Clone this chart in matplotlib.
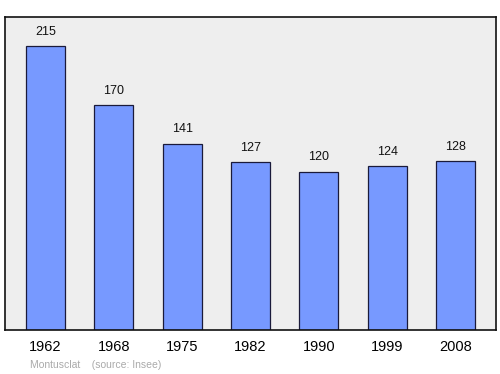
import matplotlib
matplotlib.use("Agg")
import matplotlib.pyplot as plt

years = ["1962", "1968", "1975", "1982", "1990", "1999", "2008"]
population = [215, 170, 141, 127, 120, 124, 128]

plt.rcParams['font.family'] = ['Liberation Sans', 'DejaVu Sans']

fig = plt.figure(figsize=(5, 3.74), dpi=100)
ax = fig.add_axes([0.01, 0.1176, 0.982, 0.837])
ax.set_facecolor('#eeeeee')
x = list(range(len(years)))
ax.bar(x, population, width=0.57, color='#7799ff', edgecolor='#1a1a3a', linewidth=0.9, zorder=2)
for xi, v in zip(x, population):
    ax.annotate(str(v), (xi, v), xytext=(0, 6), textcoords='offset points',
                ha='center', va='bottom', fontsize=9, color='#111111')
ax.set_xlim(-0.59, len(years) - 1 + 0.59)
ax.set_ylim(0, 237)
ax.set_xticks(x)
ax.set_xticklabels(years, fontsize=10.5)
ax.tick_params(axis='x', length=0, pad=7)
ax.set_yticks([])
for s in ax.spines.values():
    s.set_linewidth(1.2)
    s.set_color('#111111')
fig.text(0.06, 0.012, "Montusclat    (source: Insee)", fontsize=7.5, color='#aaaaaa', ha='left', va='bottom')
fig.savefig("out.png", dpi=100)
